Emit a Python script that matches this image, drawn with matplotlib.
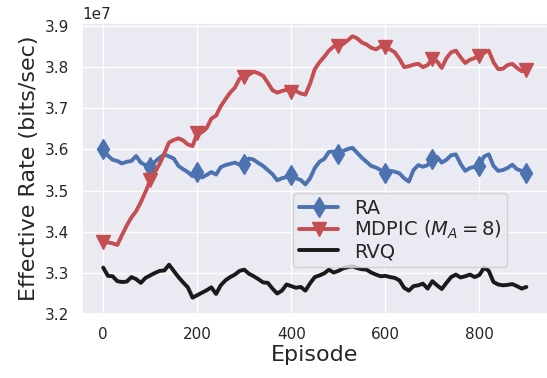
import numpy as np
import matplotlib
matplotlib.use('Agg')
import matplotlib.pyplot as plt
import seaborn as sns

episodes = list(range(0, 901, 10))

ra = [
    3.600, 3.585, 3.575, 3.572, 3.566, 3.570, 3.572, 3.584, 3.568, 3.562,
    3.558, 3.570, 3.580, 3.588, 3.583, 3.578, 3.560, 3.552, 3.545, 3.535,
    3.545, 3.532, 3.538, 3.545, 3.539, 3.557, 3.562, 3.565, 3.568, 3.563,
    3.565, 3.578, 3.575, 3.567, 3.560, 3.550, 3.540, 3.525, 3.530, 3.533,
    3.538, 3.530, 3.526, 3.515, 3.530, 3.555, 3.570, 3.577, 3.594, 3.595,
    3.588, 3.596, 3.601, 3.604, 3.592, 3.580, 3.570, 3.560, 3.556, 3.550,
    3.542, 3.548, 3.546, 3.542, 3.530, 3.522, 3.550, 3.562, 3.558, 3.562,
    3.578, 3.582, 3.568, 3.575, 3.586, 3.588, 3.565, 3.548, 3.555, 3.558,
    3.560, 3.583, 3.588, 3.560, 3.548, 3.550, 3.555, 3.563, 3.552, 3.548,
    3.543,
]

mdpic = [
    3.375, 3.374, 3.372, 3.368, 3.392, 3.415, 3.435, 3.450, 3.472, 3.497,
    3.525, 3.545, 3.565, 3.590, 3.617, 3.623, 3.627, 3.622, 3.612, 3.608,
    3.640, 3.642, 3.652, 3.675, 3.682, 3.705, 3.722, 3.738, 3.750, 3.772,
    3.776, 3.782, 3.789, 3.785, 3.779, 3.762, 3.744, 3.738, 3.742, 3.745,
    3.740, 3.742, 3.736, 3.733, 3.760, 3.795, 3.812, 3.825, 3.840, 3.850,
    3.852, 3.856, 3.865, 3.875, 3.870, 3.860, 3.855, 3.847, 3.843, 3.850,
    3.848, 3.843, 3.836, 3.820, 3.800, 3.802, 3.806, 3.808, 3.800, 3.805,
    3.820, 3.814, 3.798, 3.822, 3.836, 3.840, 3.824, 3.810, 3.818, 3.822,
    3.826, 3.835, 3.840, 3.812, 3.795, 3.796, 3.805, 3.808, 3.798, 3.790,
    3.794,
]

rvq = [
    3.313, 3.293, 3.292, 3.280, 3.278, 3.279, 3.290, 3.285, 3.276, 3.288,
    3.294, 3.300, 3.305, 3.306, 3.320, 3.305, 3.290, 3.277, 3.265, 3.240,
    3.246, 3.252, 3.258, 3.265, 3.249, 3.270, 3.282, 3.290, 3.296, 3.305,
    3.308, 3.298, 3.292, 3.285, 3.277, 3.276, 3.262, 3.250, 3.257, 3.272,
    3.268, 3.264, 3.266, 3.257, 3.275, 3.290, 3.294, 3.299, 3.308, 3.301,
    3.305, 3.311, 3.314, 3.316, 3.312, 3.309, 3.308, 3.301, 3.296, 3.292,
    3.293, 3.290, 3.288, 3.282, 3.264, 3.257, 3.268, 3.270, 3.274, 3.262,
    3.280, 3.270, 3.261, 3.276, 3.290, 3.296, 3.289, 3.292, 3.296, 3.290,
    3.295, 3.313, 3.305, 3.278, 3.272, 3.270, 3.271, 3.273, 3.268, 3.262,
    3.266,
]

sns.set_theme(style='darkgrid')
sns.set_color_codes()
plt.rcParams['font.family'] = ['DejaVu Sans']

fig = plt.figure(figsize=(5.47, 3.78), dpi=100)
ax = fig.add_axes([0.150, 0.169, 0.851, 0.770])

ax.plot(episodes, np.array(ra) * 1e7, 'b-', marker='d', markevery=10,
        markersize=10, linewidth=2.8, label='RA')
ax.plot(episodes, np.array(mdpic) * 1e7, 'r-', marker='v', markevery=10,
        markersize=10, linewidth=2.8, label='MDPIC ($M_A=8$)')
ax.plot(episodes, np.array(rvq) * 1e7, 'k-', linewidth=2.8, label='RVQ')

ax.set_xlim(-45, 945)
ax.set_ylim(3.2e7, 3.907e7)
ax.set_xticks([0, 200, 400, 600, 800])
ax.set_yticks(np.arange(3.2e7, 3.91e7, 0.1e7))
ax.tick_params(labelsize=11)
ax.yaxis.get_offset_text().set_fontsize(11)

ax.set_xlabel('Episode', fontsize=16, labelpad=2)
ax.set_ylabel('Effective Rate (bits/sec)', fontsize=16)

ax.legend(loc='lower left', bbox_to_anchor=(0.454, 0.162), borderaxespad=0,
          fontsize=14, labelspacing=0.05, handletextpad=0.8,
          borderpad=0.3)

plt.savefig('out.png', dpi=100)
